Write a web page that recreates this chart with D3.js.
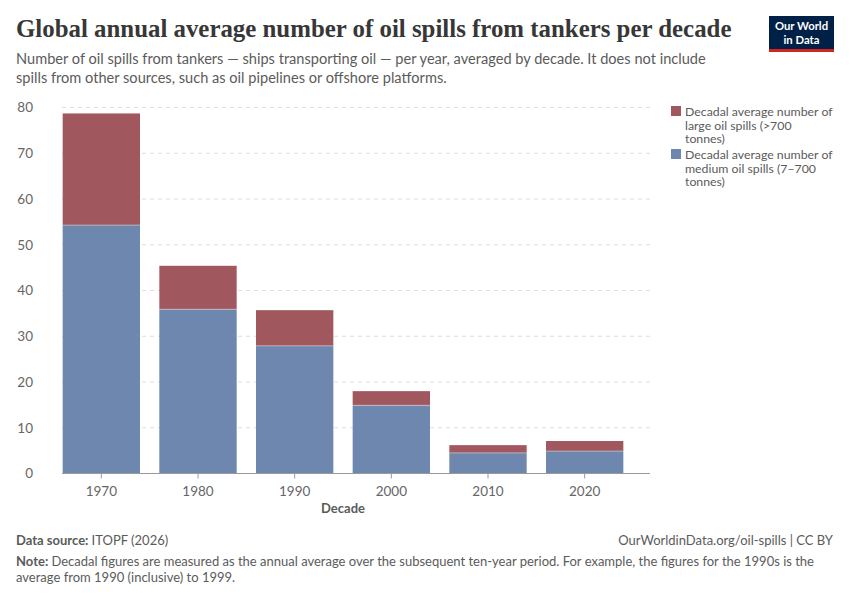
<!DOCTYPE html>
<html>
<head>
<meta charset="utf-8">
<script src="https://cdn.jsdelivr.net/npm/d3@7"></script>
<style>
  body { margin: 0; background: #fff; }
  svg { font-family: Lato, "Noto Sans", sans-serif; }
</style>
</head>
<body>
<div id="chart"></div>
<script>
let decades = ['1970', '1980', '1990', '2000', '2010', '2020']
let mediumSpills = [54.3, 35.9, 27.9, 14.9, 4.5, 4.9]
let largeSpills = [24.4, 9.5, 7.8, 3.1, 1.7, 2.2]
let yTicks = [0, 10, 20, 30, 40, 50, 60, 70, 80]

let seriesNames = [
  ['Decadal average number of', 'large oil spills (>700', 'tonnes)'],
  ['Decadal average number of', 'medium oil spills (7–700', 'tonnes)']
]
let colors = { medium: '#6d87ae', large: '#a0575e' }

let width = 850
let height = 600

let svg = d3.select('#chart')
  .append('svg')
    .attr('width', width)
    .attr('height', height)

// header - fit the serif title to the reference width (16 -> 732)
let title = svg.append('text')
  .attr('x', 16)
  .attr('y', 37)
  .style('font-family', '"Liberation Serif", "DejaVu Serif", serif')
  .attr('font-weight', 'bold')
  .attr('font-size', 27)
  .attr('fill', '#373737')
  .text('Global annual average number of oil spills from tankers per decade')

let natural = title.node().getComputedTextLength()
if (natural > 716) {
  title.attr('font-size', 27 * 716 / natural)
} else {
  title.attr('textLength', 716).attr('lengthAdjust', 'spacingAndGlyphs')
}

let subtitle = [
  'Number of oil spills from tankers — ships transporting oil — per year, averaged by decade. It does not include',
  'spills from other sources, such as oil pipelines or offshore platforms.'
]
svg.selectAll('.subtitle')
  .data(subtitle)
  .enter()
  .append('text')
    .attr('x', 16)
    .attr('y', (d, i) => 64 + i * 19)
    .attr('font-size', 14.6)
    .attr('fill', '#5b5b5b')
    .text(d => d)

// logo
svg.append('rect')
  .attr('x', 769).attr('y', 16).attr('width', 65).attr('height', 36)
  .attr('fill', '#002147')
svg.append('rect')
  .attr('x', 769).attr('y', 49).attr('width', 65).attr('height', 3)
  .attr('fill', '#ce261e')
svg.selectAll('.logo')
  .data(['Our World', 'in Data'])
  .enter()
  .append('text')
    .attr('x', 801.5)
    .attr('y', (d, i) => 30 + i * 13.5)
    .attr('text-anchor', 'middle')
    .attr('font-size', 11.3)
    .attr('font-weight', 'bold')
    .attr('fill', '#fff')
    .text(d => d)

// scales
let x = d3.scaleBand()
  .domain(decades)
  .range([53, 633])
  .paddingInner(0.2)
  .paddingOuter(0.1)

let y = d3.scaleLinear()
  .domain([0, 80])
  .range([473.5, 107.5])

// gridlines
svg.selectAll('.grid')
  .data(yTicks.filter(d => d > 0))
  .enter()
  .append('line')
    .attr('x1', 62)
    .attr('x2', 650)
    .attr('y1', d => y(d))
    .attr('y2', d => y(d))
    .attr('stroke', '#dddddd')
    .attr('stroke-dasharray', '4,4')

// y axis labels
let yAxis = svg.append('g')
  .attr('transform', 'translate(33,0)')
  .call(d3.axisLeft(y).tickValues(yTicks).tickSize(0).tickPadding(0))
yAxis.select('.domain').remove()
yAxis.selectAll('text')
  .attr('font-size', 13.5)
  .attr('fill', '#666')
  .style('font-family', 'Lato, sans-serif')

// bars
let stacks = decades.map((d, i) => ({ decade: d, medium: mediumSpills[i], large: largeSpills[i] }))

svg.selectAll('.medium')
  .data(stacks)
  .enter()
  .append('rect')
    .attr('x', d => x(d.decade))
    .attr('y', d => y(d.medium))
    .attr('width', x.bandwidth())
    .attr('height', d => y(0) - y(d.medium))
    .attr('fill', colors.medium)

svg.selectAll('.large')
  .data(stacks)
  .enter()
  .append('rect')
    .attr('x', d => x(d.decade))
    .attr('y', d => y(d.medium + d.large))
    .attr('width', x.bandwidth())
    .attr('height', d => y(d.medium) - y(d.medium + d.large))
    .attr('fill', colors.large)

// thin white separators between segments
svg.selectAll('.sep')
  .data(stacks)
  .enter()
  .append('line')
    .attr('x1', d => x(d.decade))
    .attr('x2', d => x(d.decade) + x.bandwidth())
    .attr('y1', d => y(d.medium))
    .attr('y2', d => y(d.medium))
    .attr('stroke', '#fff')
    .attr('stroke-opacity', 0.5)
    .attr('stroke-width', 0.8)

// x axis
let xAxis = svg.append('g')
  .attr('transform', `translate(0,${y(0)})`)
  .call(d3.axisBottom(x).tickSize(5).tickPadding(8))
xAxis.select('.domain').remove()
xAxis.selectAll('line').attr('stroke', '#999')
xAxis.selectAll('text')
  .attr('font-size', 13.5)
  .attr('fill', '#666')
  .style('font-family', 'Lato, sans-serif')
svg.append('line')
  .attr('x1', 62).attr('x2', 650)
  .attr('y1', y(0)).attr('y2', y(0))
  .attr('stroke', '#999')

svg.append('text')
  .attr('x', 343)
  .attr('y', 513)
  .attr('text-anchor', 'middle')
  .attr('font-size', 13)
  .attr('font-weight', 'bold')
  .attr('fill', '#5b5b5b')
  .text('Decade')

// legend
let legend = svg.selectAll('.legend')
  .data([colors.large, colors.medium])
  .enter()
  .append('g')
    .attr('transform', (d, i) => `translate(671,${106 + i * 43})`)

legend.append('rect')
  .attr('width', 10)
  .attr('height', 10)
  .attr('fill', d => d)

legend.each(function(d, i) {
  d3.select(this).selectAll('text')
    .data(seriesNames[i])
    .enter()
    .append('text')
      .attr('x', 14)
      .attr('y', (t, j) => 10 + j * 13.5)
      .attr('font-size', 12.3)
      .attr('fill', '#5b5b5b')
      .text(t => t)
})

// footer
let source = svg.append('text')
  .attr('x', 16).attr('y', 545)
  .attr('font-size', 13)
  .attr('fill', '#5b5b5b')
source.append('tspan').attr('font-weight', 'bold').text('Data source: ')
source.append('tspan').text('ITOPF (2026)')

svg.append('text')
  .attr('x', 833).attr('y', 545)
  .attr('text-anchor', 'end')
  .attr('font-size', 13)
  .attr('fill', '#5b5b5b')
  .text('OurWorldinData.org/oil-spills | CC BY')

let note = svg.append('text')
  .attr('x', 16).attr('y', 566)
  .attr('font-size', 13)
  .attr('fill', '#5b5b5b')
note.append('tspan').attr('font-weight', 'bold').text('Note: ')
note.append('tspan').text('Decadal figures are measured as the annual average over the subsequent ten-year period. For example, the figures for the 1990s is the')

svg.append('text')
  .attr('x', 16).attr('y', 582)
  .attr('font-size', 13)
  .attr('fill', '#5b5b5b')
  .text('average from 1990 (inclusive) to 1999.')
</script>
</body>
</html>
